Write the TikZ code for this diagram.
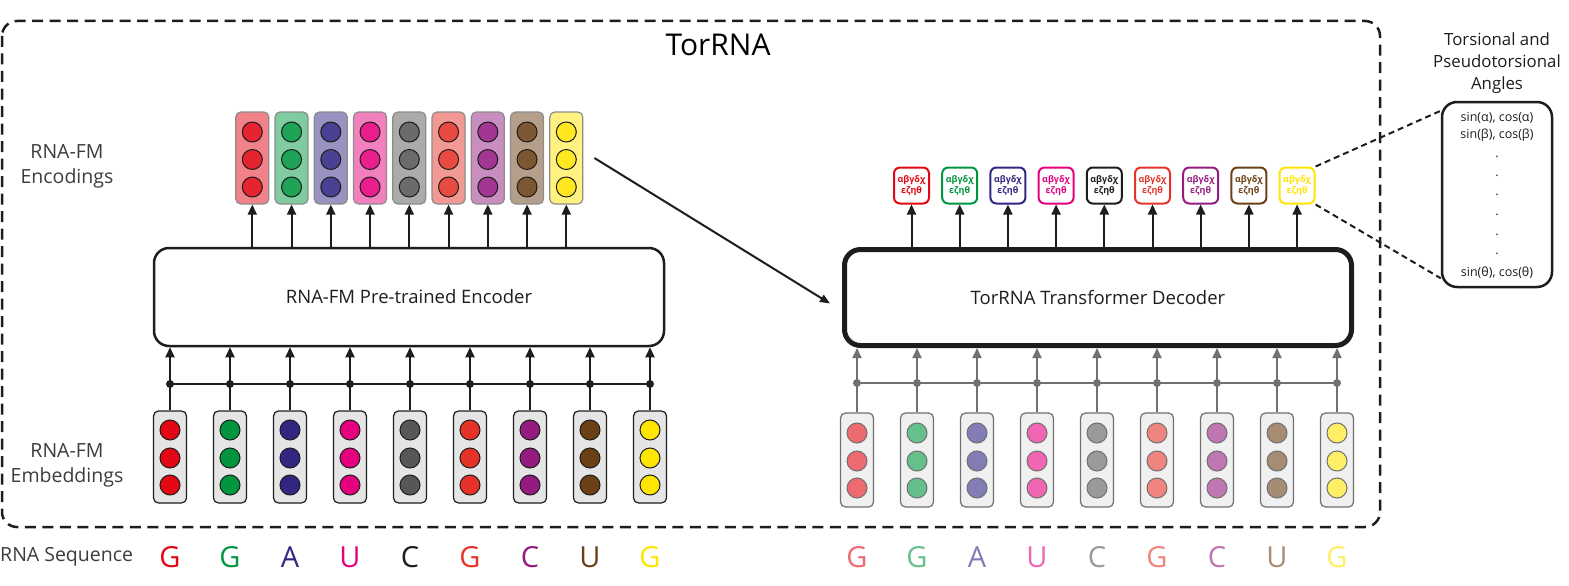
\documentclass[tikz,border=0pt]{standalone}
\usepackage{fontspec}
\setmainfont{Open Sans}
\usetikzlibrary{arrows.meta,calc}
\definecolor{c1}{HTML}{E30613}
\definecolor{c2}{HTML}{009640}
\definecolor{c3}{HTML}{312783}
\definecolor{c4}{HTML}{E6007E}
\definecolor{c5}{HTML}{575756}
\definecolor{c6}{HTML}{E63329}
\definecolor{c7}{HTML}{951B81}
\definecolor{c8}{HTML}{6B4016}
\definecolor{c9}{HTML}{FFE500}
\colorlet{s1}{c1}\colorlet{s2}{c2}\colorlet{s3}{c3}\colorlet{s4}{c4}
\definecolor{s5}{HTML}{1D1D1B}
\colorlet{s6}{c6}\colorlet{s7}{c7}\colorlet{s8}{c8}\colorlet{s9}{c9}
\definecolor{dk}{HTML}{1D1D1B}
\definecolor{labgray}{HTML}{3C3C3B}
\definecolor{midgray}{HTML}{707070}
\begin{document}
\begin{tikzpicture}[x=1pt,y=-1pt,
  tipA/.tip={Triangle[width=9pt,length=10pt]},
  lab/.style={font=\fontsize{19.5}{25}\selectfont, text=labgray, align=center},
  embbox/.style={draw=dk, fill=black!10, line width=1.2, rounded corners=5, minimum width=33, minimum height=92, inner sep=0},
  decbox/.style={draw=midgray, fill=black!6, line width=1.2, rounded corners=5, minimum width=33, minimum height=94, inner sep=0},
  encbox/.style={draw=black!45, fill=#1, line width=1.2, rounded corners=5, minimum width=33, minimum height=92, inner sep=0},
  outbox/.style={draw=#1, fill=white, line width=2, rounded corners=6, minimum width=35, minimum height=36, inner sep=0},
  blkarrow/.style={-tipA, line width=2, draw=dk},
  seql/.style={font=\fontsize{29}{32}\selectfont},
  angt/.style={font=\fontsize{12.5}{14}\selectfont, text=dk},
  dot/.style={circle, fill=#1, inner sep=0, minimum size=8}
]
\useasboundingbox (0,0) rectangle (1569,586);
% outer dashed frame
\draw[line width=2.5, dash pattern=on 11pt off 6.5pt, rounded corners=15, draw=dk] (2,21) rectangle (1380,527);
\node[font=\fontsize{30}{34}\selectfont] (title) at (718,45) {TorRNA};

% labels
\node[lab] (lenc) at (67,166) {RNA-FM\\Encodings};
\node[lab] (lemb) at (67,465) {RNA-FM\\Embeddings};
\node[lab, anchor=west, inner sep=0] (lseq) at (0,557) {RNA Sequence};

% encoder and decoder
\node[draw=dk, line width=2.5, rounded corners=15, minimum width=510, minimum height=98, font=\fontsize{18.5}{22}\selectfont, text=dk] (encoder) at (409,297) {RNA-FM Pre-trained Encoder};
\node[draw=dk, line width=5, rounded corners=16, minimum width=507, minimum height=96, font=\fontsize{18.5}{22}\selectfont, text=dk] (decoder) at (1098,297.5) {TorRNA Transformer Decoder};

% left: embeddings, junctions
\foreach \i/\l in {1/G,2/G,3/A,4/U,5/C,6/G,7/C,8/U,9/G}{
  \pgfmathsetmacro\xx{170+60*(\i-1)}
  \node[embbox] (emb\i) at (\xx,457) {};
  \foreach \yy in {430,458,485} \draw[fill=c\i, draw=dk, line width=1] (\xx,\yy) circle (10);
  \node[dot=dk] (jn\i) at (\xx,384) {};
  \draw[line width=2, draw=dk] (emb\i.north) -- (jn\i.center);
  \draw[blkarrow] (jn\i.center) -- (encoder.south -| jn\i);
  \node[seql, text=s\i] (sl\i) at (\xx,557) {\l};
}
\draw[line width=2, draw=dk] (jn1.center) -- (jn9.center);

% encodings
\foreach \i in {1,...,9}{
  \pgfmathsetmacro\xx{252.3+39.25*(\i-1)}
  \node[encbox=c\i!50!white] (enc\i) at (\xx,158) {};
  \foreach \yy in {132,159.5,187} \draw[fill=c\i!88!white, draw=dk, line width=1] (\xx,\yy) circle (10);
  \draw[blkarrow] (encoder.north -| enc\i) -- (enc\i.south);
}

% right: decoder inputs
\foreach \i/\l in {1/G,2/G,3/A,4/U,5/C,6/G,7/C,8/U,9/G}{
  \pgfmathsetmacro\xx{857+60*(\i-1)}
  \node[decbox] (din\i) at (\xx,460) {};
  \foreach \yy in {433,461,488} \draw[fill=c\i!60!white, draw=midgray, line width=1] (\xx,\yy) circle (10);
  \node[dot=midgray] (dn\i) at (\xx,383) {};
  \draw[line width=2, draw=midgray] (din\i.north) -- (dn\i.center);
  \draw[-{Triangle[width=9pt,length=10pt]}, line width=2, draw=midgray, fill=midgray] (dn\i.center) -- (decoder.south -| dn\i);
  \node[seql, text=c\i!60!white] (sr\i) at (\xx,557) {\l};
}
\draw[line width=2, draw=midgray] (dn1.center) -- (dn9.center);

% outputs
\foreach \i in {1,...,9}{
  \pgfmathsetmacro\xx{911.5+48.2*(\i-1)}
  \node[outbox=s\i, font=\fontsize{9}{11}\selectfont\bfseries, text=s\i, align=center] (out\i) at (\xx,185.5) {αβγδχ\\εζηθ};
  \draw[blkarrow] (decoder.north -| out\i) -- (out\i.south);
}

% encodings -> decoder
\draw[-{Triangle[width=8pt,length=10pt]}, line width=2, draw=dk] ($(enc9.east)+(11,0)$) -- ($(decoder.west)+(-12,6)$);

% angles box
\node[font=\fontsize{16.8}{22}\selectfont, text=dk, align=center] (angtitle) at (1497,63) {Torsional and\\Pseudotorsional\\Angles};
\node[draw=dk, line width=2.5, rounded corners=15, minimum width=110, minimum height=185, inner sep=0] (angles) at (1497,194.5) {};
\node[angt] (a1) at (1497,118) {sin(α), cos(α)};
\node[angt] (a2) at (1497,135) {sin(β), cos(β)};
\foreach \k/\yy in {1/157,2/176,3/195,4/215,5/235,6/254}
  \node[angt] (ad\k) at (1497,\yy) {.};
\node[angt] (a3) at (1497,273) {sin(θ), cos(θ)};
\draw[line width=2, dash pattern=on 6pt off 4pt, draw=dk] (out9.north east) -- ($(angles.north west)+(0,10)$);
\draw[line width=2, dash pattern=on 6pt off 4pt, draw=dk] (out9.south east) -- ($(angles.south west)+(0,-10)$);
\end{tikzpicture}
\end{document}
